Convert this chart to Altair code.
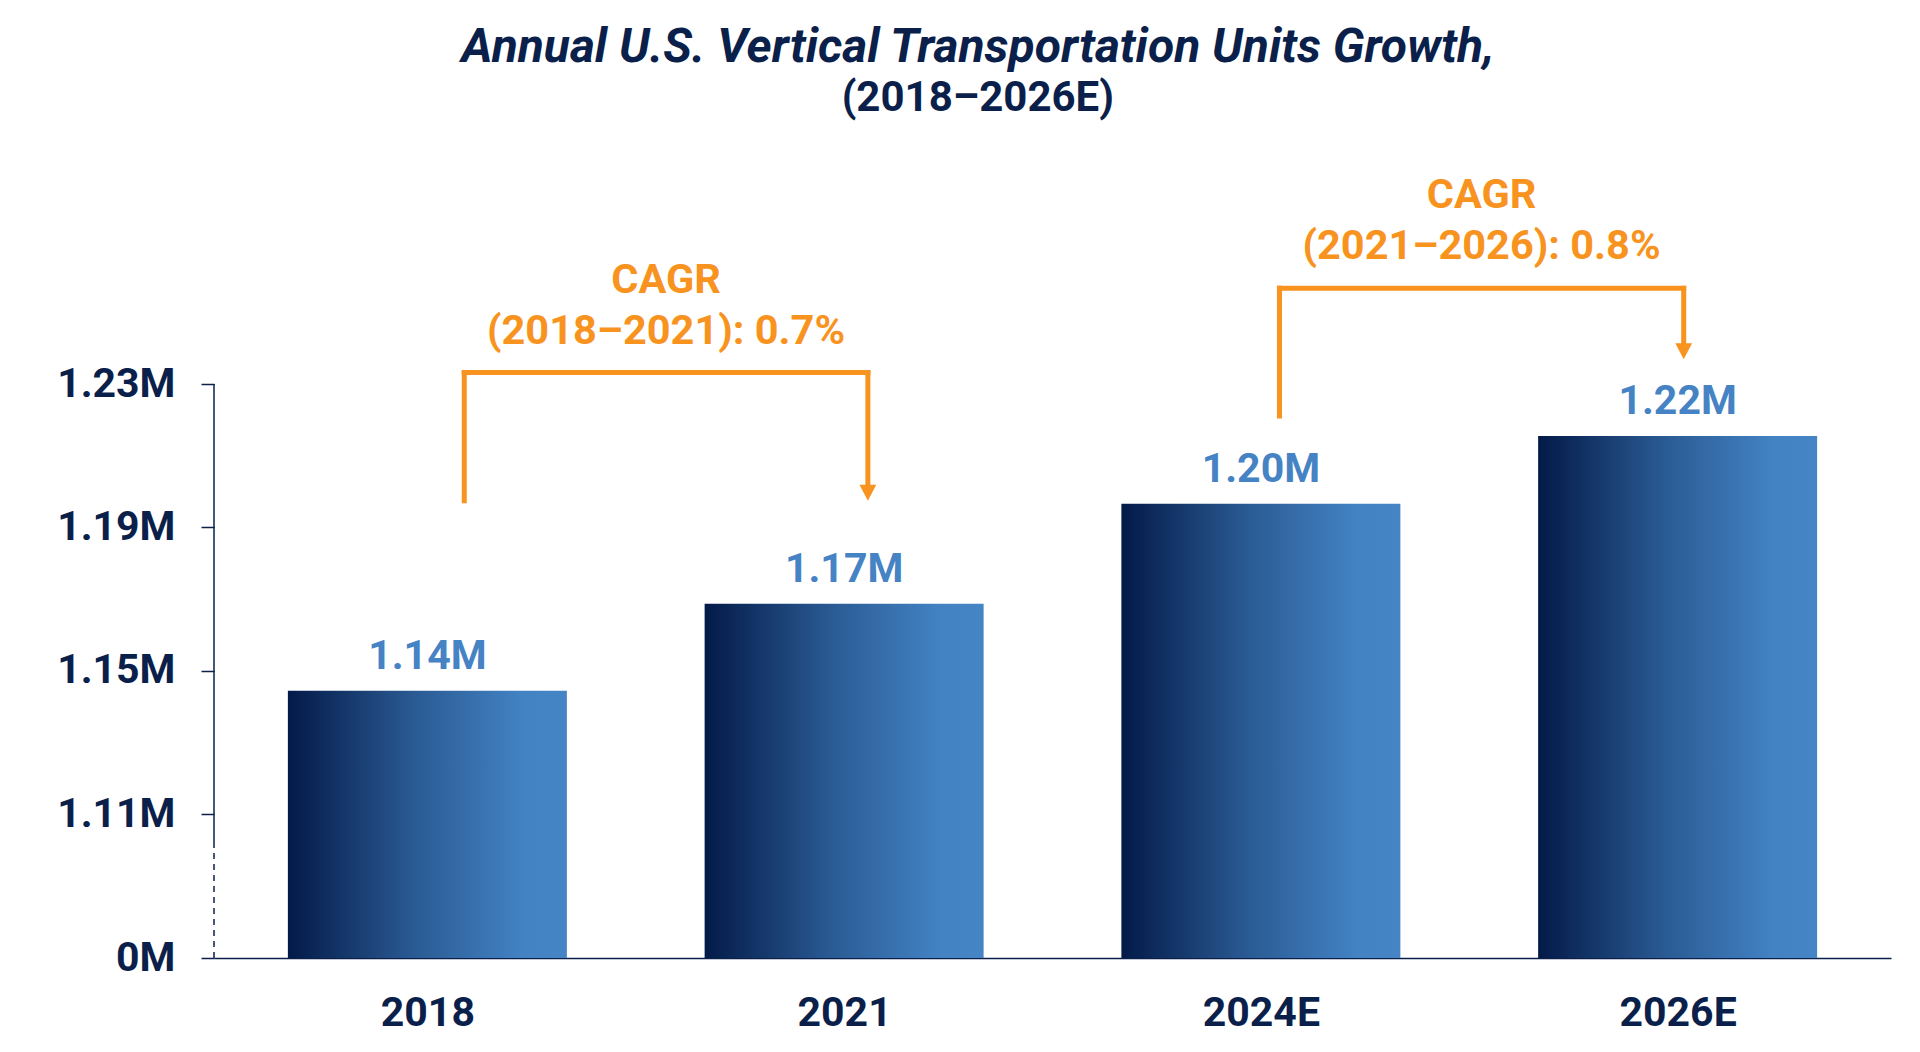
import altair as alt
import pandas as pd

# ---- data ----
years = ["2018", "2021", "2024E", "2026E"]
units_m = [1.1444, 1.1687, 1.1966, 1.2155]          # millions of units
y_ticks = [0, 1.11, 1.15, 1.19, 1.23]

cagr_title = ["CAGR", "CAGR"]
cagr_period = ["(2018\u20132021): 0.7%", "(2021\u20132026): 0.8%"]
cagr_x_start = [0.0885, 2.0446]
cagr_x_end = [1.057, 3.0146]
cagr_y_top = [1.2332, 1.2567]
cagr_y_left = [1.1974, 1.2211]
cagr_y_tip = [1.1974, 1.2369]

axis_solid = [0.887, 1.23]
axis_dashed = [0.0, 0.887]

NAVY = "#0b1f4b"
ORANGE = "#f7931e"
BLUE = "#4583c4"
FONT = "Roboto"

bars = pd.DataFrame({"idx": list(range(len(years))), "year": years, "units": units_m})
brk = pd.DataFrame({
    "t1": cagr_title, "t2": cagr_period,
    "xs": cagr_x_start, "xe": cagr_x_end,
    "top": cagr_y_top, "yl": cagr_y_left, "yt": cagr_y_tip,
})
ax = pd.DataFrame({"s0": [axis_solid[0]], "s1": [axis_solid[1]],
                   "d0": [axis_dashed[0]], "d1": [axis_dashed[1]]})

label_list = "[" + ",".join("'%s'" % y for y in years) + "]"

H = 574
W = 1677
xscale = alt.Scale(domain=[-0.5, len(years) - 0.5], nice=False, zero=False)
yscale = alt.Scale(domain=[0, 1.11, 1.23], range=[H, H - 144, 0], nice=False, zero=False)

x_axis = alt.Axis(values=list(range(len(years))), labelExpr=label_list + "[datum.value]",
                  title=None, grid=False, ticks=False, domain=True, domainColor=NAVY,
                  domainWidth=1.5, labelFont=FONT, labelFontWeight="bold", labelFontSize=41,
                  labelColor=NAVY, labelPadding=35)
y_axis = alt.Axis(values=y_ticks,
                  labelExpr="datum.value == 0 ? '0M' : format(datum.value, '.2f') + 'M'",
                  title=None, grid=False, domain=False, ticks=True, tickSize=13,
                  tickColor=NAVY, tickWidth=1.5, labelFont=FONT, labelFontWeight="bold",
                  labelFontSize=41, labelColor=NAVY, labelPadding=26)

grad = alt.Gradient(
    gradient="linear",
    stops=[alt.GradientStop(color="#031a48", offset=0),
           alt.GradientStop(color="#2a5a93", offset=0.45),
           alt.GradientStop(color="#4383c4", offset=0.85),
           alt.GradientStop(color="#4585c6", offset=1)],
    x1=0, x2=1, y1=0, y2=0,
)

base = alt.Chart(bars)
bar_layer = base.mark_bar(color=grad, size=279).encode(
    x=alt.X("idx:Q", scale=xscale, axis=x_axis),
    y=alt.Y("units:Q", scale=yscale, axis=y_axis),
)
val_layer = base.transform_calculate(
    label="format(datum.units, '.2f') + 'M'"
).mark_text(font=FONT, fontWeight="bold", fontSize=41, color=BLUE,
            baseline="alphabetic", dy=-22).encode(
    x=alt.X("idx:Q", scale=xscale), y=alt.Y("units:Q", scale=yscale), text="label:N")

axc = alt.Chart(ax)
ax_solid = axc.mark_rule(color=NAVY, strokeWidth=1.5).encode(
    x=alt.value(0), y=alt.Y("s0:Q", scale=yscale), y2="s1:Q")
ax_dash = axc.mark_rule(color=NAVY, strokeWidth=1.5, strokeDash=[6, 5]).encode(
    x=alt.value(0), y=alt.Y("d0:Q", scale=yscale), y2="d1:Q")

bc = alt.Chart(brk)
RW = 5
left_leg = bc.mark_rule(color=ORANGE, strokeWidth=RW, strokeCap="square").encode(
    x=alt.X("xs:Q", scale=xscale), y=alt.Y("yl:Q", scale=yscale), y2="top:Q")
right_leg = bc.mark_rule(color=ORANGE, strokeWidth=RW, strokeCap="square", yOffset=-12).encode(
    x=alt.X("xe:Q", scale=xscale), y=alt.Y("yt:Q", scale=yscale), y2="top:Q")
top_bar = bc.mark_rule(color=ORANGE, strokeWidth=RW, strokeCap="square").encode(
    x=alt.X("xs:Q", scale=xscale), x2="xe:Q", y=alt.Y("top:Q", scale=yscale))
arrow = bc.mark_point(shape="M-1.05,-2L1.05,-2L0,0Z", filled=True, size=256, color=ORANGE,
                      opacity=1, strokeWidth=0).encode(
    x=alt.X("xe:Q", scale=xscale), y=alt.Y("yt:Q", scale=yscale))
mid = bc.transform_calculate(xm="(datum.xs + datum.xe) / 2")
txt1 = mid.mark_text(font=FONT, fontWeight="bold", fontSize=41.5, color=ORANGE,
                     baseline="middle", dy=-92).encode(
    x=alt.X("xm:Q", scale=xscale), y=alt.Y("top:Q", scale=yscale), text="t1:N")
txt2 = mid.mark_text(font=FONT, fontWeight="bold", fontSize=41.5, color=ORANGE,
                     baseline="middle", dy=-41).encode(
    x=alt.X("xm:Q", scale=xscale), y=alt.Y("top:Q", scale=yscale), text="t2:N")

chart = alt.layer(
    bar_layer, val_layer, ax_solid, ax_dash, left_leg, right_leg, top_bar, arrow, txt1, txt2
).properties(
    width=W, height=H,
    title=alt.Title(
        text="Annual U.S. Vertical Transportation Units Growth,",
        subtitle="(2018\u20132026E)",
        font=FONT, fontSize=48, fontStyle="italic", fontWeight="bold", color=NAVY,
        subtitleFont=FONT, subtitleFontSize=42, subtitleFontWeight="bold",
        subtitleColor=NAVY, subtitlePadding=6, anchor="middle", frame="bounds", offset=56,
        dx=4,
    ),
    autosize=alt.AutoSizeParams(type="none"),
    padding={"left": 206, "top": 376, "right": 21, "bottom": 80},
    background="white",
).configure_view(stroke=None)

chart.save("out.html", embed_options={"renderer": "svg", "actions": False})
